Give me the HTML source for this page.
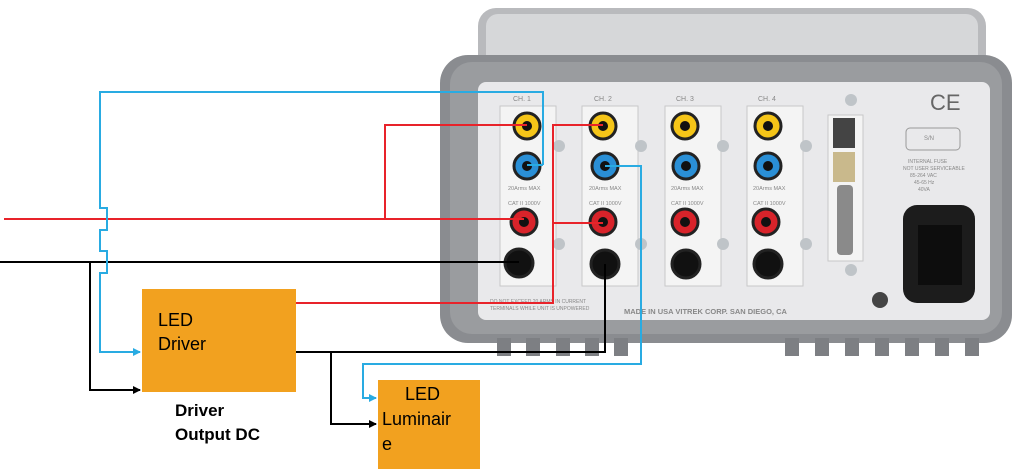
<!DOCTYPE html>
<html><head><meta charset="utf-8"><style>
html,body{margin:0;padding:0;background:#fff;width:1024px;height:470px;overflow:hidden}
svg{display:block}
text{font-family:"Liberation Sans",sans-serif}
</style></head><body>
<svg width="1024" height="470" viewBox="0 0 1024 470" xmlns="http://www.w3.org/2000/svg">
<defs>
<marker id="ab" markerWidth="8" markerHeight="8" refX="7" refY="4" orient="auto" markerUnits="userSpaceOnUse"><path d="M0,0 L8,4 L0,8 z" fill="#29abe2"/></marker>
<marker id="ak" markerWidth="8" markerHeight="8" refX="7" refY="4" orient="auto" markerUnits="userSpaceOnUse"><path d="M0,0 L8,4 L0,8 z" fill="#000"/></marker>
</defs>
<!-- instrument -->
<rect x="478" y="8" width="508" height="80" rx="18" fill="#b9babd"/>
<rect x="486" y="14" width="492" height="70" rx="12" fill="#d6d7d9"/>
<rect x="440" y="55" width="572" height="288" rx="28" fill="#8a8c90"/>
<rect x="450" y="62" width="552" height="272" rx="22" fill="#9a9c9f"/>
<rect x="478" y="82" width="512" height="238" rx="8" fill="#e9e9eb"/>
<g fill="#7d7f83">
<rect x="497" y="338" width="14" height="18"/><rect x="526" y="338" width="14" height="18"/><rect x="556" y="338" width="14" height="18"/><rect x="585" y="338" width="14" height="18"/><rect x="614" y="338" width="14" height="18"/>
<rect x="785" y="338" width="14" height="18"/><rect x="815" y="338" width="14" height="18"/><rect x="845" y="338" width="14" height="18"/><rect x="875" y="338" width="14" height="18"/><rect x="905" y="338" width="14" height="18"/><rect x="935" y="338" width="14" height="18"/><rect x="965" y="338" width="14" height="18"/>
</g>
<g font-size="7" fill="#888">
<text x="513" y="101">CH. 1</text><text x="594" y="101">CH. 2</text><text x="676" y="101">CH. 3</text><text x="758" y="101">CH. 4</text>
<text x="624" y="314" font-weight="bold" font-size="7.5">MADE IN USA    VITREK CORP.   SAN DIEGO, CA</text>
<text x="490" y="303" font-size="5">DO NOT EXCEED 20 ARMS IN CURRENT</text>
<text x="490" y="310" font-size="5">TERMINALS WHILE UNIT IS UNPOWERED</text>
<text x="908" y="163" font-size="5">INTERNAL FUSE</text><text x="903" y="170" font-size="5">NOT USER SERVICEABLE</text><text x="910" y="177" font-size="5">85-264 VAC</text><text x="914" y="184" font-size="5">45-65 Hz</text><text x="918" y="191" font-size="5">40VA</text>
</g>
<text x="930" y="110" font-size="22" fill="#666">CE</text>
<rect x="906" y="128" width="54" height="22" rx="4" fill="none" stroke="#999"/>
<text x="924" y="140" font-size="6" fill="#888">S/N</text>
<g fill="#f4f4f4" stroke="#c8c8c8">
<rect x="500" y="106" width="56" height="180"/><rect x="582" y="106" width="56" height="180"/><rect x="665" y="106" width="56" height="180"/><rect x="747" y="106" width="56" height="180"/>
<rect x="828" y="115" width="35" height="146"/>
</g>
<g font-size="5.5" fill="#888">
<text x="508" y="190">20Arms MAX</text><text x="589" y="190">20Arms MAX</text><text x="671" y="190">20Arms MAX</text><text x="753" y="190">20Arms MAX</text>
<text x="508" y="205">CAT II 1000V</text><text x="589" y="205">CAT II 1000V</text><text x="671" y="205">CAT II 1000V</text><text x="753" y="205">CAT II 1000V</text>
</g>
<rect x="833" y="118" width="22" height="30" fill="#444"/>
<rect x="833" y="152" width="22" height="30" fill="#c9b98c"/>
<rect x="837" y="185" width="16" height="70" rx="4" fill="#8a8a8a"/>
<rect x="903" y="205" width="72" height="98" rx="14" fill="#1c1c1c"/>
<rect x="918" y="225" width="44" height="60" fill="#0d0d0d"/>
<circle cx="880" cy="300" r="8" fill="#444"/>
<g>
<!-- jacks -->
<g id="ch"></g>
</g>
<g stroke="#222" stroke-width="3">
<circle cx="527" cy="126" r="13" fill="#f5c518"/><circle cx="527" cy="166" r="13" fill="#2a8fd6"/><circle cx="524" cy="222" r="13" fill="#d8232a"/><circle cx="519" cy="263" r="14" fill="#111"/>
<circle cx="603" cy="126" r="13" fill="#f5c518"/><circle cx="605" cy="166" r="13" fill="#2a8fd6"/><circle cx="603" cy="222" r="13" fill="#d8232a"/><circle cx="605" cy="264" r="14" fill="#111"/>
<circle cx="685" cy="126" r="13" fill="#f5c518"/><circle cx="686" cy="166" r="13" fill="#2a8fd6"/><circle cx="685" cy="222" r="13" fill="#d8232a"/><circle cx="686" cy="264" r="14" fill="#111"/>
<circle cx="768" cy="126" r="13" fill="#f5c518"/><circle cx="768" cy="166" r="13" fill="#2a8fd6"/><circle cx="766" cy="222" r="13" fill="#d8232a"/><circle cx="768" cy="264" r="14" fill="#111"/>
</g>
<g fill="#111"><circle cx="527" cy="126" r="5"/><circle cx="603" cy="126" r="5"/><circle cx="685" cy="126" r="5"/><circle cx="768" cy="126" r="5"/>
<circle cx="527" cy="166" r="5"/><circle cx="605" cy="166" r="5"/><circle cx="686" cy="166" r="5"/><circle cx="768" cy="166" r="5"/>
<circle cx="524" cy="222" r="5"/><circle cx="603" cy="222" r="5"/><circle cx="685" cy="222" r="5"/><circle cx="766" cy="222" r="5"/></g>
<g fill="#bfc4c8"><circle cx="559" cy="146" r="6"/><circle cx="641" cy="146" r="6"/><circle cx="723" cy="146" r="6"/><circle cx="806" cy="146" r="6"/>
<circle cx="559" cy="244" r="6"/><circle cx="641" cy="244" r="6"/><circle cx="723" cy="244" r="6"/><circle cx="806" cy="244" r="6"/>
<circle cx="851" cy="100" r="6"/><circle cx="851" cy="270" r="6"/></g>

<!-- wires -->
<g fill="none" stroke-width="2">
<path d="M4,219 H524 M385,219 V125 H527" stroke="#e8232a"/>
<path d="M296,303 H553 V125 H603 M553,223 H603" stroke="#e8232a"/>
<path d="M0,262 H519 M90,262 V390 H140" stroke="#000" marker-end="url(#ak)"/>
<path d="M296,352 H605 V264 M331,352 V424 H376" stroke="#000" marker-end="url(#ak)"/>
<path d="M543,165 V92 H100 V208 h7 v22 h-7 V251 h7 v22 h-7 V352 H140" stroke="#29abe2" marker-end="url(#ab)"/>
<path d="M527,165 H543" stroke="#29abe2"/>
<path d="M605,166 H641 V364 H363 V398 H376" stroke="#29abe2" marker-end="url(#ab)"/>
</g>
<!-- boxes -->
<rect x="142" y="289" width="154" height="103" fill="#f2a11f"/>
<text x="158" y="326" font-size="18">LED</text>
<text x="158" y="350" font-size="18">Driver</text>
<rect x="378" y="380" width="102" height="89" fill="#f2a11f"/>
<text x="405" y="400" font-size="18">LED</text>
<text x="382" y="425" font-size="18">Luminair</text>
<text x="382" y="450" font-size="18">e</text>
<text x="175" y="416" font-size="17" font-weight="bold">Driver</text>
<text x="175" y="440" font-size="17" font-weight="bold">Output DC</text>
</svg>
</body></html>
